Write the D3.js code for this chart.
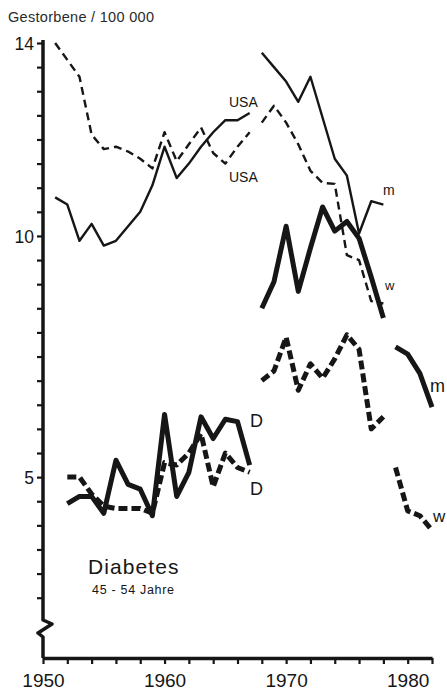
<!DOCTYPE html>
<html>
<head>
<meta charset="utf-8">
<script src="https://cdn.jsdelivr.net/npm/d3@7"></script>
<style>
  html, body { margin: 0; padding: 0; background: #fff; }
  svg { display: block; font-family: "Liberation Sans", Arial, Helvetica, sans-serif; }
</style>
</head>
<body>
<div id="chart"></div>
<script>
// Gestorbene / 100 000, Diabetes 45-54 Jahre
// segments split at ICD revisions (1968, 1979)

const yearsA = d3.range(1951, 1968);          // 1951-1967
const yearsD = d3.range(1952, 1968);          // 1952-1967
const yearsB = d3.range(1968, 1979);          // 1968-1978
const yearsC = d3.range(1979, 1983);          // 1979-1982

// USA, thin solid (m)
const usaSolidA = [10.8, 10.65, 9.9, 10.25, 9.8, 9.9, 10.2, 10.5, 11.05, 11.85, 11.2, 11.5, 11.85, 12.15, 12.4, 12.4, 12.55];
const usaSolidB = [13.8, 13.5, 13.2, 12.78, 13.3, 12.45, 11.6, 11.25, 10.05, 10.72, 10.65];
// USA, thin dashed (w)
const usaDashA = [14.0, 13.65, 13.3, 12.1, 11.8, 11.85, 11.75, 11.6, 11.4, 12.15, 11.55, 11.9, 12.25, 11.72, 11.5, 11.85, 12.15];
const usaDashB = [12.35, 12.7, 12.35, 11.9, 11.35, 11.1, 11.08, 9.6, 9.5, 8.65, 8.6];
// D, thick solid (m)
const dSolidA = [4.45, 4.6, 4.6, 4.25, 5.35, 4.85, 4.75, 4.2, 6.3, 4.6, 5.1, 6.25, 5.8, 6.2, 6.15, 5.25];
const dSolidB = [8.5, 9.05, 10.2, 8.85, 9.75, 10.6, 10.1, 10.3, 9.95, 9.15, 8.3];
const dSolidC = [7.7, 7.55, 7.15, 6.45];
// D, thick dashed (w)
const dDashA = [5.0, 5.0, 4.65, 4.4, 4.35, 4.35, 4.35, 4.25, 5.3, 5.25, 5.5, 5.9, 4.8, 5.5, 5.2, 5.1];
const dDashB = [7.0, 7.2, 7.9, 6.8, 7.35, 7.05, 7.45, 7.95, 7.65, 6.0, 6.25];
const dDashC = [5.2, 4.3, 4.2, 3.9];

const yTicks = d3.range(2.5, 14.01, 0.5);
const yTickLabels = [5, 10, 14];
const xTicks = d3.range(1950, 1983, 2);
const xTickLabels = [1950, 1960, 1970, 1980];

const W = 447, H = 691;
const ink = '#161616';

const x = d3.scaleLinear().domain([1950, 1982]).range([43, 432]);
const y = d3.scaleLinear().domain([1.25, 14]).range([658, 43]);

const svg = d3.select('#chart').append('svg').attr('width', W).attr('height', H);

// y axis
const yAxis = svg.append('g').attr('transform', `translate(${x(1950)},0)`)
    .call(d3.axisLeft(y).tickValues(yTicks).tickSize(6).tickSizeOuter(0)
        .tickFormat(d => yTickLabels.includes(d) ? d : ''));
yAxis.select('.domain').remove();
yAxis.selectAll('.tick line').attr('stroke', ink).attr('stroke-width', 2.2);
yAxis.selectAll('.tick text').attr('fill', ink).attr('font-size', 17.5)
    .attr('font-family', null).attr('x', -9).attr('dy', '0.36em');

// axis line with break
const y0 = y.range()[0];
svg.append('path')
    .attr('d', `M${x(1950)},40 L${x(1950)},620 L52,624 L38,633 L${x(1950)},637 L${x(1950)},${y0}`)
    .attr('fill', 'none').attr('stroke', ink).attr('stroke-width', 3.5).attr('stroke-linejoin', 'round');

// x axis
const xAxis = svg.append('g').attr('transform', `translate(0,${y0})`)
    .call(d3.axisBottom(x).tickValues(xTicks).tickSize(6).tickSizeOuter(0)
        .tickFormat(d => xTickLabels.includes(d) ? d : ''));
xAxis.select('.domain').attr('stroke', ink).attr('stroke-width', 3.5);
xAxis.selectAll('.tick line').attr('stroke', ink).attr('stroke-width', 2.2);
xAxis.selectAll('.tick text').attr('fill', ink).attr('font-size', 19)
    .attr('font-family', null).attr('y', 16).attr('dy', '0.71em');

// lines
const line = d3.line().x(d => x(d[0])).y(d => y(d[1]));
function drawSeries(years, vals, width, dash) {
    svg.append('path')
        .datum(years.map((yr, i) => [yr, vals[i]]))
        .attr('d', line)
        .attr('fill', 'none').attr('stroke', ink)
        .attr('stroke-width', width)
        .attr('stroke-dasharray', dash)
        .attr('stroke-linejoin', 'round');
}
drawSeries(yearsA, usaSolidA, 2.4, null);
drawSeries(yearsB, usaSolidB, 2.4, null);
drawSeries(yearsA, usaDashA, 2.4, '8 5');
drawSeries(yearsB, usaDashB, 2.4, '8 5');
drawSeries(yearsD, dDashA, 5, '9 4');
drawSeries(yearsB, dDashB, 5, '9 4');
drawSeries(yearsC, dDashC, 5, '9 4');
drawSeries(yearsD, dSolidA, 5, null);
drawSeries(yearsB, dSolidB, 5, null);
drawSeries(yearsC, dSolidC, 5, null);

// texts
function label(tx, ty, s, size, extra) {
    const t = svg.append('text').attr('x', tx).attr('y', ty).attr('fill', ink)
        .attr('font-size', size).text(s);
    if (extra) extra(t);
    return t;
}
label(8, 22, 'Gestorbene / 100 000', 14.5, t => t.attr('fill', '#2a2a2a').attr('letter-spacing', 0.3));
label(229, 107, 'USA', 14);
label(229, 182, 'USA', 14);
label(383, 195, 'm', 14);
label(385, 290, 'w', 13);
label(250, 427, 'D', 18);
label(250, 495, 'D', 18);
label(430, 392, 'm', 18);
label(433, 522, 'w', 17);
label(88, 574, 'Diabetes', 21, t => t.attr('letter-spacing', 1.1));
label(92, 594, '45 - 54  Jahre', 12.5, t => t.attr('letter-spacing', 0.7));
</script>
</body>
</html>
